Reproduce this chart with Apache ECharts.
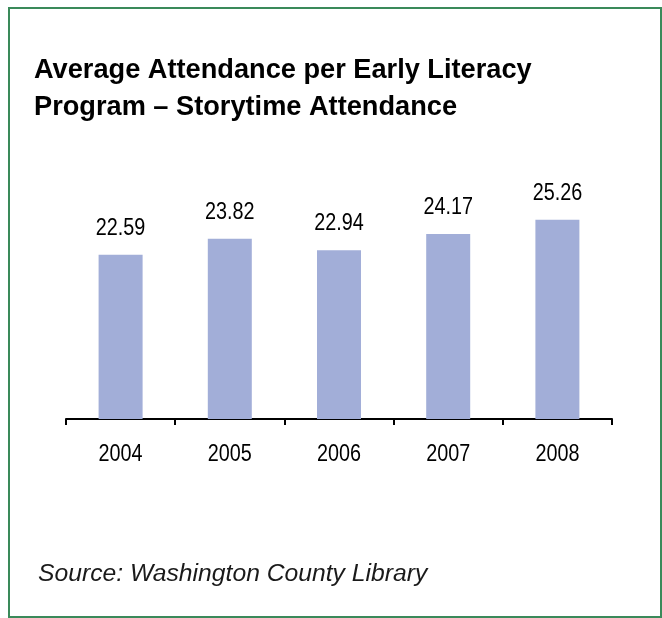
<!DOCTYPE html>
<html>
<head>
<meta charset="utf-8">
<script src="https://cdn.jsdelivr.net/npm/echarts@6/dist/echarts.min.js"></script>
<style>
  html, body { margin: 0; padding: 0; background: #ffffff; }
  #chart { width: 662px; height: 618px; }
</style>
</head>
<body>
<div id="chart"></div>
<script>
// Storytime attendance by year
const years = ['2004', '2005', '2006', '2007', '2008'];
const attendance = [22.59, 23.82, 22.94, 24.17, 25.26];

const titleText = 'Average Attendance per Early Literacy\nProgram \u2013 Storytime Attendance';
const sourceText = 'Source: Washington County Library';

const sans = '"Liberation Sans", Arial, sans-serif';
const Y_MIN = 10;
const NARROW = 0.86; // horizontal squeeze for the condensed label face

const chart = echarts.init(document.getElementById('chart'), null, { renderer: 'canvas' });

// Condensed text anchored to a point given by the axes
function narrowText(x, y, text) {
  return {
    type: 'text',
    x: x,
    y: y,
    scaleX: NARROW,
    style: {
      text: text,
      x: 0,
      y: 0,
      fontFamily: sans,
      fontSize: 23,
      fill: '#000000',
      align: 'center',
      verticalAlign: 'middle'
    }
  };
}

chart.setOption({
  backgroundColor: '#ffffff',
  animation: false,
  title: [
    {
      text: titleText,
      left: 34,
      top: 52,
      padding: 0,
      textStyle: {
        fontFamily: sans,
        fontWeight: 'bold',
        fontSize: 27.2,
        lineHeight: 37,
        color: '#000000'
      }
    },
    {
      text: sourceText,
      left: 38,
      top: 562,
      padding: 0,
      textStyle: {
        fontFamily: sans,
        fontStyle: 'italic',
        fontWeight: 'normal',
        fontSize: 24.7,
        color: '#1a1a1a'
      }
    }
  ],
  graphic: [
    {
      type: 'rect',
      shape: { x: 9, y: 8, width: 652, height: 609 },
      style: { fill: 'none', stroke: '#3a8a5a', lineWidth: 2 },
      silent: true
    }
  ],
  grid: { left: 66, right: 50, top: 158, bottom: 199 },
  xAxis: {
    type: 'category',
    data: years,
    axisLine: { lineStyle: { color: '#000000', width: 2 } },
    axisTick: { show: true, length: 6, lineStyle: { color: '#000000', width: 2 } },
    axisLabel: { show: false },
    splitLine: { show: false }
  },
  yAxis: {
    type: 'value',
    min: Y_MIN,
    max: 30,
    show: false
  },
  series: [
    {
      type: 'bar',
      data: attendance,
      barWidth: 44,
      itemStyle: { color: '#a2aed8' }
    },
    {
      // value labels above each bar
      type: 'custom',
      clip: false,
      silent: true,
      data: attendance.map((v, i) => [i, v]),
      renderItem: function (params, api) {
        const v = api.value(1);
        const p = api.coord([api.value(0), v]);
        return narrowText(p[0], p[1] - 26, v.toFixed(2));
      }
    },
    {
      // year labels under the axis
      type: 'custom',
      clip: false,
      silent: true,
      data: years.map((y, i) => [i, Y_MIN]),
      renderItem: function (params, api) {
        const i = api.value(0);
        const p = api.coord([i, Y_MIN]);
        return narrowText(p[0], p[1] + 36, years[i]);
      }
    }
  ]
});
</script>
</body>
</html>
